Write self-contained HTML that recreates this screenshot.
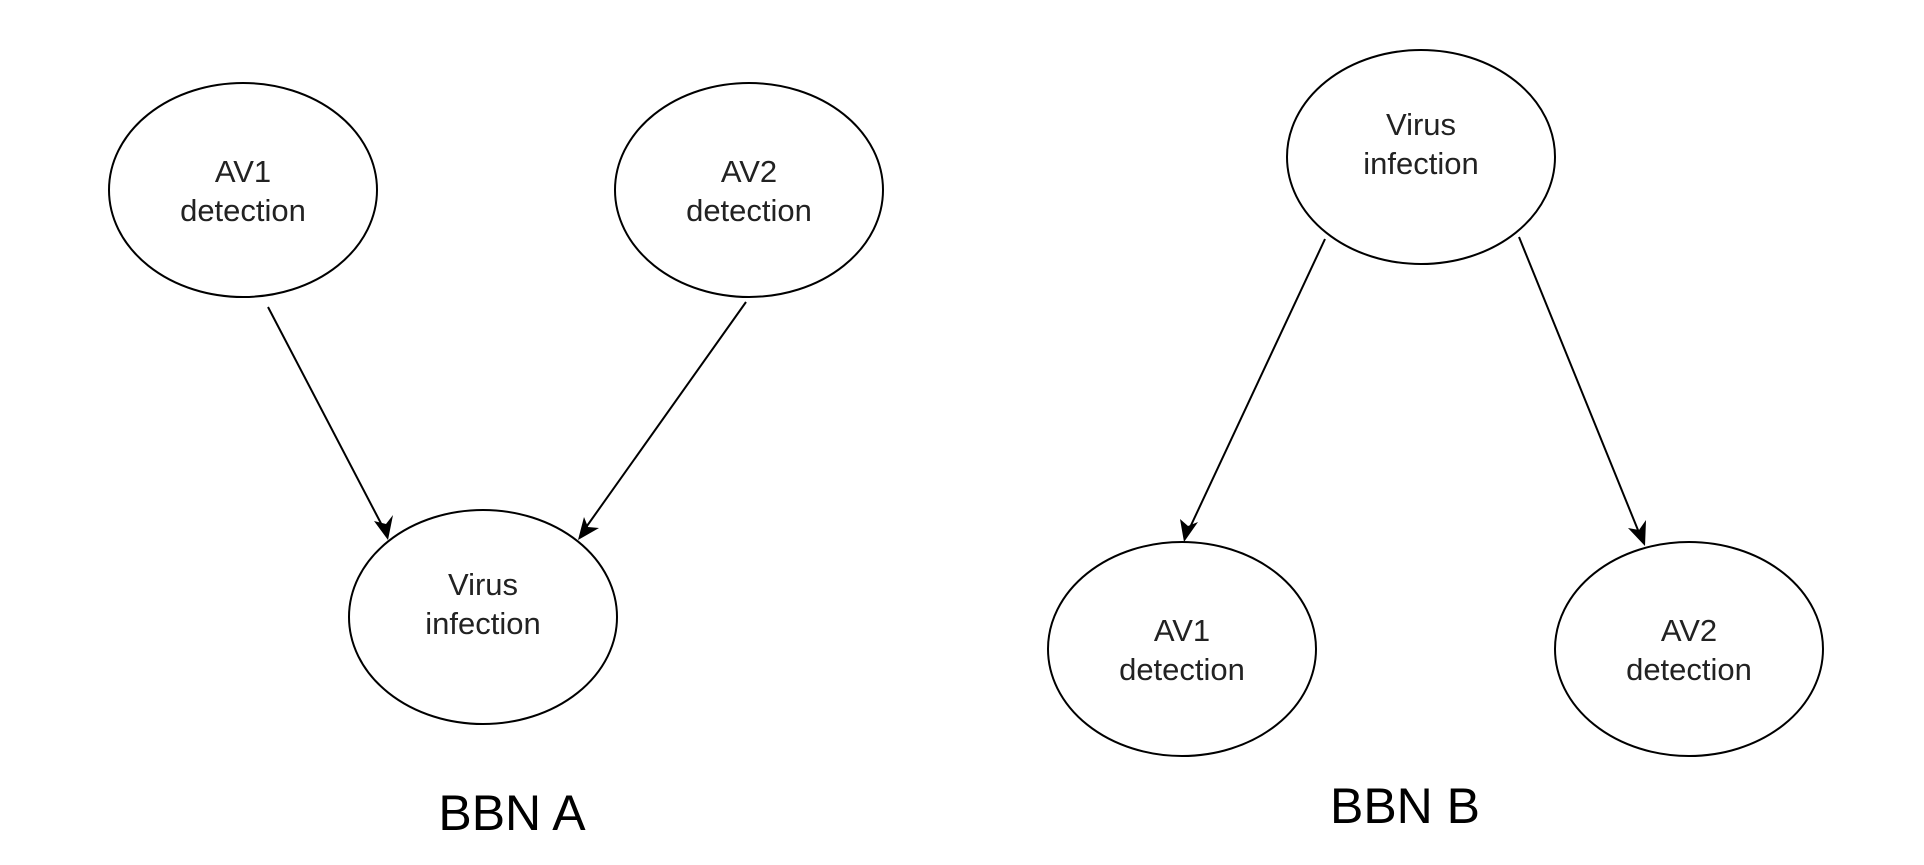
<!DOCTYPE html>
<html><head><style>html,body{margin:0;padding:0;background:#fff;}</style></head>
<body>
<svg width="1924" height="860" viewBox="0 0 1924 860" xmlns="http://www.w3.org/2000/svg" font-family="Liberation Sans, sans-serif">
<g fill="#fff" stroke="#000" stroke-width="2">
<ellipse cx="243" cy="190" rx="134" ry="107"/>
<ellipse cx="749" cy="190" rx="134" ry="107"/>
<ellipse cx="483" cy="617" rx="134" ry="107"/>
<ellipse cx="1421" cy="157" rx="134" ry="107"/>
<ellipse cx="1182" cy="649" rx="134" ry="107"/>
<ellipse cx="1689" cy="649" rx="134" ry="107"/>
</g>
<g stroke="#000" stroke-width="2" fill="none">
<line x1="268" y1="307" x2="386" y2="533"/>
<line x1="746" y1="302" x2="582" y2="533"/>
<line x1="1325" y1="239" x2="1186" y2="536"/>
<line x1="1519" y1="237" x2="1642" y2="540"/>
</g>
<g fill="#000">
<polygon points="388,540 374,521 386,524 393,515"/>
<polygon points="578,540 584,517 588,527 599,528"/>
<polygon points="1184,542 1180,519 1188,526 1198,522"/>
<polygon points="1645,546 1628,528 1639,530 1646,520"/>
</g>
<g font-size="31" text-anchor="middle" fill="#222">
<text x="243" y="182">AV1</text><text x="243" y="221">detection</text>
<text x="749" y="182">AV2</text><text x="749" y="221">detection</text>
<text x="483" y="595">Virus</text><text x="483" y="634">infection</text>
<text x="1421" y="135">Virus</text><text x="1421" y="174">infection</text>
<text x="1182" y="641">AV1</text><text x="1182" y="680">detection</text>
<text x="1689" y="641">AV2</text><text x="1689" y="680">detection</text>
</g>
<g font-size="50" text-anchor="middle" fill="#000">
<text x="512" y="830">BBN A</text>
<text x="1405" y="823">BBN B</text>
</g>
</svg>
</body></html>
